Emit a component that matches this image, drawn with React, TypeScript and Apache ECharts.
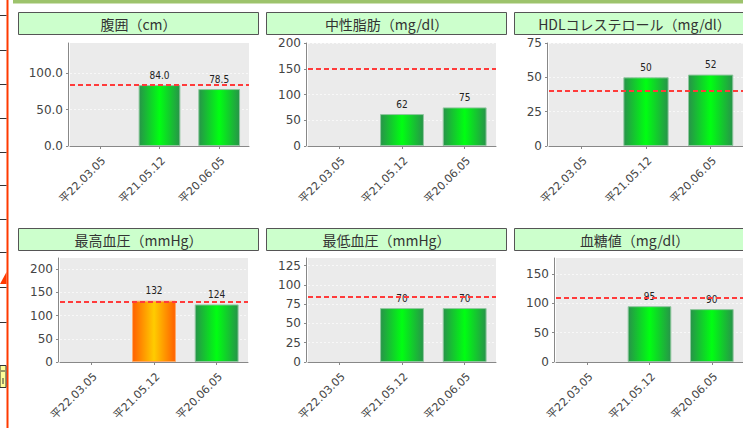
import React, { useEffect, useRef } from 'react';
import * as echarts from 'echarts';

const categories = ['平22.03.05', '平21.05.12', '平20.06.05'];
const titles = ['腹囲（cm）', '中性脂肪（mg/dl）', 'HDLコレステロール（mg/dl）', '最高血圧（mmHg）', '最低血圧（mmHg）', '血糖値（mg/dl）'];
const waist = [null, 84.0, 78.5];
const triglyceride = [null, 62, 75];
const hdl = [null, 50, 52];
const systolic = [null, 132, 124];
const diastolic = [null, 70, 70];
const glucose = [null, 95, 90];
const thresholds = [85, 150, 40, 130, 85, 110];
const lowerIsBad = [false, false, true, false, false, false];
const axisMax = [142, 200, 75, 224, 135, 177];
const axisInterval = [50, 50, 25, 50, 25, 50];
const tickValues = [
  [0, 50, 100],
  [0, 50, 100, 150, 200],
  [0, 25, 50, 75],
  [0, 50, 100, 150, 200],
  [0, 25, 50, 75, 100, 125],
  [0, 50, 100, 150],
];
const decimals = [1, 0, 0, 0, 0, 0];

const seriesValues = [waist, triglyceride, hdl, systolic, diastolic, glucose];

const grids = [
  { left: 70, top: 43, width: 179, height: 103 },
  { left: 308, top: 43, width: 188, height: 103 },
  { left: 549, top: 43, width: 195, height: 103 },
  { left: 60, top: 258, width: 188, height: 104 },
  { left: 308, top: 258, width: 188, height: 104 },
  { left: 556, top: 258, width: 188, height: 104 },
];
const titleBoxes = [
  { x: 18, y: 12 }, { x: 266, y: 12 }, { x: 514, y: 12 },
  { x: 18, y: 228 }, { x: 266, y: 228 }, { x: 514, y: 228 },
];
const leftRuleYs = [15, 50, 84, 118, 152, 185, 219, 252, 287, 322];

const greenGrad = () => new echarts.graphic.LinearGradient(0, 0, 1, 0, [
  { offset: 0, color: '#279449' },
  { offset: 0.5, color: '#00ff12' },
  { offset: 1, color: '#279449' },
]);
const orangeGrad = () => new echarts.graphic.LinearGradient(0, 0, 1, 0, [
  { offset: 0, color: '#ff6000' },
  { offset: 0.5, color: '#ffcc00' },
  { offset: 1, color: '#ff6000' },
]);

export default function App() {
  const ref = useRef<HTMLDivElement>(null);
  useEffect(() => {
    if (!ref.current) return;
    const chart = echarts.init(ref.current, undefined, { renderer: 'svg' });

    const graphic: any[] = [];
    graphic.push({ type: 'rect', shape: { x: 13, y: 0, width: 740, height: 3.5 }, style: { fill: '#9dc36c' }, silent: true });
    graphic.push({ type: 'rect', shape: { x: 6.5, y: 0, width: 2, height: 428 }, style: { fill: '#ff3a00' }, silent: true });
    leftRuleYs.forEach((y) => {
      graphic.push({ type: 'line', shape: { x1: 0, y1: y + 0.5, x2: 6.5, y2: y + 0.5 }, style: { stroke: '#333', lineWidth: 1 }, silent: true });
    });
    graphic.push({ type: 'polygon', shape: { points: [[6.5, 272], [6.5, 284], [0, 284]] }, style: { fill: '#ff3a00' }, silent: true });
    graphic.push({ type: 'rect', shape: { x: 0, y: 365.5, width: 6, height: 22 }, style: { fill: '#ffff99', stroke: '#333', lineWidth: 1 }, silent: true });
    graphic.push({ type: 'line', shape: { x1: 1, y1: 371, x2: 5, y2: 371 }, style: { stroke: '#333', lineWidth: 1 }, silent: true });
    graphic.push({ type: 'line', shape: { x1: 3, y1: 378, x2: 3, y2: 384 }, style: { stroke: '#333', lineWidth: 1 }, silent: true });

    titleBoxes.forEach((b, i) => {
      graphic.push({
        type: 'rect', shape: { x: b.x + 0.5, y: b.y + 0.5, width: 240, height: 22 },
        style: { fill: '#ccffcc', stroke: '#555', lineWidth: 1 }, silent: true,
      });
      graphic.push({
        type: 'text', x: b.x + 120.5, y: b.y + 12,
        style: { text: titles[i], align: 'center', verticalAlign: 'middle', fill: '#333', fontSize: 14, fontFamily: '"Noto Sans CJK JP", sans-serif' },
        silent: true,
      });
    });

    const option: any = {
      animation: false,
      backgroundColor: '#ffffff',
      grid: grids.map((g) => ({ ...g, show: true, backgroundColor: '#ebebeb', borderWidth: 0, containLabel: false })),
      xAxis: grids.map((_, i) => ({
        type: 'category', gridIndex: i, data: categories, offset: 4,
        axisLine: { show: true, lineStyle: { color: '#888', width: 1 } },
        axisTick: { show: true, alignWithLabel: true, length: 3, lineStyle: { color: '#888' } },
        axisLabel: {
          interval: 0, rotate: 45, margin: 5, verticalAlign: 'top', color: '#444', fontSize: 11,
          fontFamily: '"DejaVu Sans", "Noto Sans CJK JP", sans-serif',
        },
        splitLine: { show: false },
      })),
      yAxis: grids.map((_, i) => ({
        type: 'value', gridIndex: i, min: 0, max: axisMax[i], interval: axisInterval[i], offset: 2,
        axisLine: { show: true, lineStyle: { color: '#888', width: 1 } },
        axisTick: { show: true, length: 2, lineStyle: { color: '#888' }, customValues: tickValues[i] },
        axisLabel: {
          margin: 5, color: '#444', fontSize: 12, fontFamily: '"DejaVu Sans", sans-serif',
          customValues: tickValues[i], showMaxLabel: true,
          formatter: (v: number) => (tickValues[i].includes(v) ? v.toFixed(decimals[i]) : ''),
        },
        splitLine: { show: true, lineStyle: { color: '#f8f8f8', type: [2, 2], width: 1 } },
      })),
      series: seriesValues.map((vals, i) => ({
        type: 'bar', xAxisIndex: i, yAxisIndex: i, barWidth: '70%',
        data: vals.map((v) => {
          if (v == null) return null;
          const bad = lowerIsBad[i] ? v < thresholds[i] : v > thresholds[i];
          return {
            value: v,
            itemStyle: {
              color: bad ? orangeGrad() : greenGrad(),
              borderColor: bad ? '#ffaa66' : '#8fc79e', borderWidth: 1,
            },
          };
        }),
        label: {
          show: true, position: 'top', distance: 5, color: '#222', fontSize: 10,
          fontFamily: '"DejaVu Sans Condensed", "DejaVu Sans", sans-serif',
          formatter: (p: any) => (p.value == null ? '' : Number(p.value).toFixed(decimals[i])),
        },
        markLine: {
          silent: true, symbol: ['none', 'none'], label: { show: false },
          lineStyle: { color: '#ff3b3b', type: [5, 3], width: 2 },
          data: [{ yAxis: thresholds[i] }],
        },
      })),
      graphic,
    };
    chart.setOption(option);
    return () => chart.dispose();
  }, []);
  return <div ref={ref} style={{ position: 'absolute', left: 0, top: 0, width: 743, height: 428 }} />;
}
